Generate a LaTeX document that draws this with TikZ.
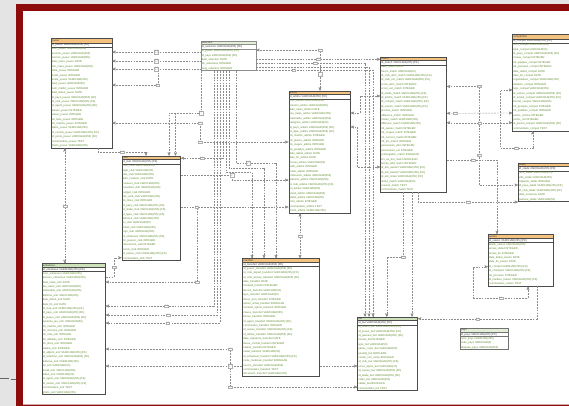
\documentclass[tikz,border=0pt]{standalone}
\usepackage{fontspec}
\setmainfont{Liberation Sans}
\usepackage{tikz}
\usetikzlibrary{arrows, shapes.multipart}
\definecolor{colorFrame}{HTML}{8E0B0B}
\definecolor{colorPage}{HTML}{E4E4E4}
\definecolor{colorHead}{HTML}{F2C27E}
\definecolor{colorHeadGreen}{HTML}{CDE2B8}
\definecolor{colorColumn}{HTML}{5E8A2B}
\definecolor{colorLink}{HTML}{8C8C8C}
\tikzset{
  entity/.style={rectangle split, rectangle split parts=3, draw=black!70, line width=0.5pt, anchor=north west, align=left, inner xsep=0.8pt, inner ysep=0.6pt, font=\fontsize{2.7}{4.4}\selectfont, text=colorColumn, rectangle split part fill={colorHead, white, white}},
  entitygreen/.style={entity, rectangle split part fill={colorHeadGreen, white, white}},
  entitylight/.style={entity, draw=black!45, rectangle split part fill={colorHeadGreen!55, white, white}},
  rel/.style={draw=colorLink, line width=0.35pt, dash pattern=on 1.8pt off 1.1pt},
  card/.style={solid, draw=colorLink!70, fill=white, line width=0.2pt, inner sep=0.3pt, font=\fontsize{2}{2.3}\selectfont, text=black!60, align=center},
}
\begin{document}
\begin{tikzpicture}[x=1pt, y=-1pt, >=stealth']
\useasboundingbox (0,0) rectangle (569,406);
\clip (0,0) rectangle (569,406);
\fill[colorPage] (0,0) rectangle (569,406);
\fill[colorFrame] (16,4) rectangle (569,406);
\fill[white] (22.5,10.7) rectangle (569,404);
\fill[colorFrame!35] (22.5,404) rectangle (569,405.3);
\draw[black!60, line width=0.9pt] (0,378.5) -- (9,378.5) (10.5,379.2) -- (15.5,379.2);

\node[entity, text width=59.4pt] (joueur) at (50.8,38.3) {\textcolor{black!75}{joueur}
\nodepart{two}\textcolor{black!75}{id\_joueur VARCHAR(255) [PK]}
\nodepart{three}nom\_joueur VARCHAR(255)\\prenom\_joueur VARCHAR(255)\\surnom\_joueur VARCHAR(255)\\date\_naiss\_joueur DATE\\lieu\_naiss\_joueur VARCHAR(255)\\taille\_joueur INTEGER\\poids\_joueur INTEGER\\poste\_joueur VARCHAR(255)\\pied\_joueur VARCHAR(50)\\num\_maillot\_joueur INTEGER\\date\_debut\_joueur DATE\\id\_pays\_joueur VARCHAR(255) [FK]\\id\_club\_joueur VARCHAR(255) [FK]\\id\_agent\_joueur VARCHAR(255) [FK]\\salaire\_joueur INTEGER\\valeur\_joueur INTEGER\\nb\_buts\_joueur INTEGER\\nb\_matchs\_joueur INTEGER\\statut\_joueur VARCHAR(255)\\id\_contrat\_joueur VARCHAR(255) [FK]\\id\_poste\_joueur VARCHAR(255) [FK]\\commentaire\_joueur TEXT\\photo\_joueur VARCHAR(255)};

\node[entitylight, text width=53.4pt] (selection) at (200.7,40.7) {\textcolor{black!75}{selection}
\nodepart{two}\textcolor{black!75}{id\_selection VARCHAR(255) [PK]}
\nodepart{three}id\_joueur VARCHAR(255) [FK]\\id\_pays VARCHAR(255) [FK]\\date\_selection DATE\\nb\_selections INTEGER\\rang\_selection INTEGER};

\node[entity, text width=57.1pt] (club) at (121.6,155.7) {\textcolor{black!75}{club}
\nodepart{two}\textcolor{black!75}{id\_club VARCHAR(255) [PK]}
\nodepart{three}nom\_club VARCHAR(255)\\sigle\_club VARCHAR(20)\\ville\_club VARCHAR(255)\\date\_creation\_club DATE\\couleurs\_club VARCHAR(255)\\president\_club VARCHAR(255)\\budget\_club INTEGER\\site\_web\_club VARCHAR(255)\\nb\_titres\_club INTEGER\\id\_pays\_club VARCHAR(255) [FK]\\id\_stade\_club VARCHAR(255) [FK]\\id\_ligue\_club VARCHAR(255) [FK]\\adresse\_club VARCHAR(255)\\tel\_club VARCHAR(50)\\email\_club VARCHAR(255)\\logo\_club VARCHAR(255)\\id\_entraineur VARCHAR(255) [FK]\\nb\_joueurs\_club INTEGER\\classement\_club INTEGER\\points\_club INTEGER\\id\_saison\_club VARCHAR(255) [FK]\\commentaire\_club TEXT};

\node[entity, text width=60.1pt] (arbitre) at (288.5,90.7) {\textcolor{black!75}{arbitre}
\nodepart{two}\textcolor{black!75}{id\_arbitre VARCHAR(255) [PK]}
\nodepart{three}nom\_arbitre VARCHAR(255)\\prenom\_arbitre VARCHAR(255)\\date\_naiss\_arbitre DATE\\lieu\_naiss\_arbitre VARCHAR(255)\\nationalite\_arbitre VARCHAR(255)\\categorie\_arbitre VARCHAR(50)\\id\_pays\_arbitre VARCHAR(255) [FK]\\id\_ligue\_arbitre VARCHAR(255) [FK]\\nb\_matchs\_arbitre INTEGER\\nb\_jaunes\_arbitre INTEGER\\nb\_rouges\_arbitre INTEGER\\nb\_penaltys\_arbitre INTEGER\\date\_debut\_arbitre DATE\\date\_fin\_arbitre DATE\\niveau\_arbitre VARCHAR(50)\\taille\_arbitre INTEGER\\poids\_arbitre INTEGER\\profession\_arbitre VARCHAR(255)\\adresse\_arbitre VARCHAR(255)\\id\_club\_arbitre VARCHAR(255) [FK]\\tel\_arbitre VARCHAR(50)\\email\_arbitre VARCHAR(255)\\statut\_arbitre VARCHAR(50)\\note\_arbitre INTEGER\\commentaire\_arbitre TEXT\\photo\_arbitre VARCHAR(255)};

\node[entity, text width=64.4pt] (match) at (380.3,56.7) {\textcolor{black!75}{match}
\nodepart{two}\textcolor{black!75}{id\_match VARCHAR(255) [PK]}
\nodepart{three}date\_match DATE\\heure\_match VARCHAR(10)\\id\_club\_dom\_match VARCHAR(255) [FK]\\id\_club\_ext\_match VARCHAR(255) [FK]\\score\_dom\_match INTEGER\\score\_ext\_match INTEGER\\id\_stade\_match VARCHAR(255) [FK]\\id\_arbitre\_match VARCHAR(255) [FK]\\id\_compet\_match VARCHAR(255) [FK]\\id\_saison\_match VARCHAR(255) [FK]\\journee\_match INTEGER\\affluence\_match INTEGER\\meteo\_match VARCHAR(255)\\diffuseur\_match VARCHAR(255)\\nb\_jaunes\_match INTEGER\\nb\_rouges\_match INTEGER\\nb\_corners\_match INTEGER\\nb\_tirs\_match INTEGER\\possession\_dom INTEGER\\possession\_ext INTEGER\\prolongation\_match BOOLEAN\\tirs\_au\_but\_match BOOLEAN\\temps\_add\_match INTEGER\\id\_arb\_assist1 VARCHAR(255) [FK]\\id\_arb\_assist2 VARCHAR(255) [FK]\\id\_arb\_video VARCHAR(255) [FK]\\statut\_match VARCHAR(50)\\resume\_match TEXT\\commentaire\_match TEXT};

\node[entity, text width=64.4pt] (competition) at (512.3,34.3) {\textcolor{black!75}{competition}
\nodepart{two}\textcolor{black!75}{id\_compet VARCHAR(255) [PK]}
\nodepart{three}nom\_compet VARCHAR(255)\\type\_compet VARCHAR(50)\\id\_pays\_compet VARCHAR(255) [FK]\\niveau\_compet INTEGER\\nb\_equipes\_compet INTEGER\\nb\_journees\_compet INTEGER\\date\_debut\_compet DATE\\date\_fin\_compet DATE\\organisateur\_compet VARCHAR(255)\\dotation\_compet INTEGER\\logo\_compet VARCHAR(255)\\id\_saison\_compet VARCHAR(255) [FK]\\id\_tenant\_compet VARCHAR(255) [FK]\\format\_compet VARCHAR(255)\\nb\_groupes\_compet INTEGER\\nb\_qualifies\_compet INTEGER\\points\_victoire INTEGER\\points\_nul INTEGER\\id\_parent\_compet VARCHAR(255) [FK]\\commentaire\_compet TEXT};

\node[entity, text width=60.4pt] (stade) at (518,162.7) {\textcolor{black!75}{stade}
\nodepart{two}\textcolor{black!75}{id\_stade VARCHAR(255) [PK]}
\nodepart{three}nom\_stade VARCHAR(255)\\ville\_stade VARCHAR(255)\\capacite\_stade INTEGER\\id\_pays\_stade VARCHAR(255) [FK]\\id\_club\_stade VARCHAR(255) [FK]\\date\_ouverture DATE\\pelouse\_stade VARCHAR(50)};

\node[entity, text width=63.7pt] (saison) at (488,234.3) {\textcolor{black!75}{saison}
\nodepart{two}\textcolor{black!75}{id\_saison VARCHAR(255) [PK]}
\nodepart{three}libelle\_saison VARCHAR(255)\\annee\_debut INTEGER\\annee\_fin INTEGER\\date\_debut\_saison DATE\\date\_fin\_saison DATE\\id\_compet VARCHAR(255) [FK]\\id\_champion VARCHAR(255) [FK]\\nb\_journees INTEGER\\id\_meilleur\_buteur VARCHAR(255) [FK]\\commentaire\_saison TEXT};

\node[entitygreen, text width=61.9pt] (entraineur) at (41.7,263.3) {\textcolor{black!75}{entraineur}
\nodepart{two}\textcolor{black!75}{id\_entraineur VARCHAR(255) [PK]}
\nodepart{three}nom\_entraineur VARCHAR(255)\\prenom\_entraineur VARCHAR(255)\\date\_naiss\_entr DATE\\lieu\_naiss\_entr VARCHAR(255)\\nationalite\_entr VARCHAR(255)\\diplome\_entr VARCHAR(255)\\date\_debut\_entr DATE\\date\_fin\_entr DATE\\id\_club\_entr VARCHAR(255) [FK]\\id\_pays\_entr VARCHAR(255) [FK]\\id\_joueur\_entr VARCHAR(255) [FK]\\systeme\_jeu\_entr VARCHAR(50)\\nb\_matchs\_entr INTEGER\\nb\_victoires\_entr INTEGER\\nb\_nuls\_entr INTEGER\\nb\_defaites\_entr INTEGER\\nb\_titres\_entr INTEGER\\salaire\_entr INTEGER\\id\_adjoint\_entr VARCHAR(255) [FK]\\id\_selection\_entr VARCHAR(255) [FK]\\adresse\_entr VARCHAR(255)\\tel\_entr VARCHAR(50)\\email\_entr VARCHAR(255)\\statut\_entr VARCHAR(50)\\id\_agent\_entr VARCHAR(255) [FK]\\id\_saison\_entr VARCHAR(255) [FK]\\commentaire\_entr TEXT\\photo\_entr VARCHAR(255)};

\node[entity, text width=75.4pt] (transfert) at (242.4,258.3) {\textcolor{black!75}{transfert}
\nodepart{two}\textcolor{black!75}{id\_transfert VARCHAR(255) [PK]}
\nodepart{three}id\_joueur\_transfert VARCHAR(255) [FK]\\id\_club\_depart\_transfert VARCHAR(255) [FK]\\id\_club\_arrivee\_transfert VARCHAR(255) [FK]\\date\_transfert DATE\\montant\_transfert INTEGER\\devise\_transfert VARCHAR(10)\\type\_transfert VARCHAR(50)\\duree\_pret\_transfert INTEGER\\option\_achat\_transfert BOOLEAN\\montant\_option\_transfert INTEGER\\clause\_transfert VARCHAR(255)\\bonus\_transfert INTEGER\\id\_agent\_transfert VARCHAR(255) [FK]\\commission\_transfert INTEGER\\id\_saison\_transfert VARCHAR(255) [FK]\\id\_arbitre\_transfert VARCHAR(255) [FK]\\date\_signature\_transfert DATE\\duree\_contrat\_transfert INTEGER\\salaire\_transfert INTEGER\\statut\_transfert VARCHAR(50)\\id\_entraineur\_transfert VARCHAR(255) [FK]\\visite\_medicale\_transfert BOOLEAN\\source\_transfert VARCHAR(255)\\commentaire\_transfert TEXT\\document\_transfert VARCHAR(255)};

\node[entitygreen, text width=58.4pt] (but) at (357.4,316.7) {\textcolor{black!75}{but}
\nodepart{two}\textcolor{black!75}{id\_but VARCHAR(255) [PK]}
\nodepart{three}id\_match\_but VARCHAR(255) [FK]\\id\_joueur\_but VARCHAR(255) [FK]\\id\_passeur\_but VARCHAR(255) [FK]\\minute\_but INTEGER\\type\_but VARCHAR(50)\\partie\_corps\_but VARCHAR(50)\\penalty\_but BOOLEAN\\contre\_son\_camp BOOLEAN\\id\_club\_but VARCHAR(255) [FK]\\score\_apres\_but VARCHAR(10)\\id\_saison\_but VARCHAR(255) [FK]\\id\_stade\_but VARCHAR(255) [FK]\\video\_but VARCHAR(255)\\valide\_but BOOLEAN\\commentaire\_but TEXT};

\node[entitylight, draw=black!55, text width=46.4pt] (pays) at (460,328.3) {\textcolor{black!75}{pays}
\nodepart{two}\textcolor{black!75}{id\_pays VARCHAR(255) [PK]}
\nodepart{three}nom\_pays VARCHAR(255)\\code\_pays VARCHAR(3)\\drapeau\_pays VARCHAR(255)};

\draw[rel, <-] ([yshift=-13.7pt]joueur.north east) -- node[card]{0..1\\1..1} ([yshift=-11.3pt]selection.north west);
\draw[rel, <-] ([yshift=-22.7pt]joueur.north east) -- node[card]{0..1\\1..*} ([yshift=-20.3pt]selection.north west);
\draw[rel, <-] ([yshift=-30.7pt]joueur.north east) -- node[card]{1..1\\0..*} ([yshift=-28.3pt]selection.north west);
\draw[rel, <-] ([yshift=-46.7pt]joueur.north east) -| node[card, pos=0.5]{1..*} ([xshift=-43pt, yshift=-28.3pt]selection.north west);
\draw[rel, <->] ([yshift=-84.7pt]joueur.north east) -| node[card, pos=0.5]{0..*} ([xshift=-88.5pt, yshift=-51.3pt]arbitre.north west) -- node[card, pos=0]{1..1} ([yshift=-51.3pt]arbitre.north west);
\draw[rel, ->] (selection.south west) |- node[card, pos=0.5]{1..1\\1..*} ([xshift=47.4pt, yshift=42.7pt]club.north west) -- ([xshift=47.4pt]club.north west);
\draw[rel, ->] ([xshift=53.9pt, yshift=42.7pt]club.north west) -- ([xshift=53.9pt]club.north west);
\draw[rel, ->] ([xshift=47.2pt]joueur.south west) |- node[card, pos=0.75]{1..1} ([xshift=24.4pt, yshift=4pt]club.north west) -- ([xshift=24.4pt]club.north west);
\draw[rel, <->] ([xshift=14pt]joueur.south west) -- node[card]{1..*} ([xshift=23.1pt]entraineur.north west);
\draw[rel, ->] ([yshift=-13.7pt]entraineur.north east) -| node[card, pos=0.75]{1..1} ([xshift=-7.6pt, yshift=3pt]club.south west) -- ([yshift=3pt]club.south west);
\draw[rel, ->] ([yshift=-19.3pt]club.north east) -| node[card, pos=0.5]{0..1\\1..*} ([xshift=-56.5pt, yshift=-89.3pt]arbitre.north west) -- ([yshift=-89.3pt]arbitre.north west);
\draw[rel, ->] ([yshift=-51.3pt]club.north east) -- ([yshift=-116.3pt]arbitre.north west);
\draw[rel, <-] ([yshift=-18.7pt]entraineur.north east) -| node[card, pos=0.5]{1..1} node[card, pos=1]{1..*} ([xshift=-91.8pt, yshift=-116.3pt]arbitre.north west);
\draw[rel, ->] ([xshift=13.3pt]selection.south west) |- node[card, pos=0.72]{1..1} ([yshift=-42.7pt]entraineur.north east);
\draw[rel, ->] ([xshift=16.3pt]selection.south west) |- node[card, pos=0.72]{0..*} ([yshift=-51.7pt]entraineur.north east);
\draw[rel, ->] ([xshift=19.3pt]selection.south west) |- node[card, pos=0.73]{1..*} ([yshift=-59.7pt]entraineur.north east);
\draw[rel, ->] ([xshift=22.3pt]selection.south west) |- node[card, pos=0.75]{1..1} ([yshift=-2.5pt]club.north east);
\draw[rel, ->] ([xshift=25.3pt]selection.south west) |- ([xshift=9.6pt, yshift=86.3pt]transfert.north west) -- ([xshift=9.6pt]transfert.north west);
\draw[rel, ->] ([xshift=28.3pt]selection.south west) |- ([xshift=21.6pt, yshift=90.3pt]transfert.north west) -- ([xshift=21.6pt]transfert.north west);
\draw[rel, ->] ([xshift=35.3pt]selection.south west) |- node[card, pos=0.65]{1..1\\1..*} ([xshift=33.6pt, yshift=95.3pt]transfert.north west) -- ([xshift=33.6pt]transfert.north west);
\draw[rel, <->] ([xshift=11.5pt]arbitre.south west) -- node[card]{1..*} ([xshift=57.6pt]transfert.north west);
\draw[rel, <->] ([yshift=-85.7pt]entraineur.north east) -| node[card, pos=0.5]{0..*} ([xshift=-127.4pt, yshift=-70.3pt]but.north west) -- node[card, pos=0]{1..1} ([yshift=-70.3pt]but.north west);
\draw[rel, <-] ([yshift=-102.7pt]entraineur.north east) -- node[card, pos=0.91]{1..1\\1..*} ([yshift=-107.7pt]transfert.north west);
\draw[rel, ->] ([yshift=-107.7pt]transfert.north east) -- ([yshift=-49.3pt]but.north west);
\draw[rel, <->] ([yshift=-9.3pt]selection.north east) -| node[card, pos=0.5]{0..1} node[card, pos=0.8]{1..*\\1..1} ([xshift=31.5pt]arbitre.north west);
\draw[rel, ->] ([yshift=-18.6pt]selection.north east) -- node[card, pos=0.5]{1..*} ([yshift=-2.6pt]match.north west);
\draw[rel, ->] ([yshift=-22.3pt]selection.north east) -| node[card, pos=0.27]{0..1} ([xshift=7.6pt]but.north west);
\draw[rel, ->] ([yshift=-26.3pt]selection.north east) -| ([xshift=11.6pt]but.north west);
\draw[rel, ->] ([yshift=-29.3pt]selection.north east) -| node[card, pos=0.16]{1..1} ([xshift=15.6pt]but.north west);
\draw[rel, <->] ([yshift=-22.3pt]arbitre.north east) -| ([xshift=-20.3pt, yshift=-39.3pt]match.north west) -- ([yshift=-39.3pt]match.north west);
\draw[rel, <->] ([yshift=-36.3pt]arbitre.north east) -| ([xshift=-23.3pt, yshift=-110.3pt]match.north west) -- ([yshift=-110.3pt]match.north west);
\draw[rel, ->] ([xshift=22.7pt]match.south west) |- node[card, pos=0.5]{1..1} ([xshift=29.3pt, yshift=59.7pt]but.north west) -- ([xshift=29.3pt]but.north west);
\draw[rel, ->] ([xshift=31.7pt]match.south west) -- ([xshift=54.6pt]but.north west);
\draw[rel, <->] ([yshift=-29.8pt]match.north east) -| node[card, pos=0.5]{0..1} node[card, pos=0.85]{1..*} ([xshift=-39pt, yshift=-22.3pt]stade.north west) -- ([yshift=-22.3pt]stade.north west);
\draw[rel, <->] ([yshift=-56.6pt]match.north east) -- node[card, pos=0.13]{1..1} ([yshift=-78.7pt]competition.north west);
\draw[rel, <->] ([yshift=-66pt]match.north east) -- node[card, pos=0.5]{0..*} ([yshift=-88.4pt]competition.north west);
\draw[rel, <->] ([xshift=20.4pt]competition.south west) |- node[card, pos=0.75]{1..*} ([xshift=-12.3pt, yshift=-113.7pt]competition.north west) |- ([yshift=-55.7pt]competition.north west);
\draw[rel, ->] ([yshift=-103.3pt]match.north east) -| node[card, pos=0.26]{1..*} ([xshift=9pt]saison.north west);
\draw[rel, ->] ([xshift=37.7pt]match.south west) |- node[card, pos=0.75]{1..1} ([yshift=-39.3pt]stade.north west);
\draw[rel, <->] ([xshift=40pt]saison.south west) |- node[card, pos=0.75]{0..1} ([xshift=-14.5pt, yshift=-63.7pt]saison.north west) |- ([yshift=-32.4pt]saison.north west);
\draw[rel, ->] ([xshift=49pt]saison.south west) |- node[card, pos=0.75]{1..*} ([yshift=-2pt]but.north east);
\end{tikzpicture}
\end{document}
